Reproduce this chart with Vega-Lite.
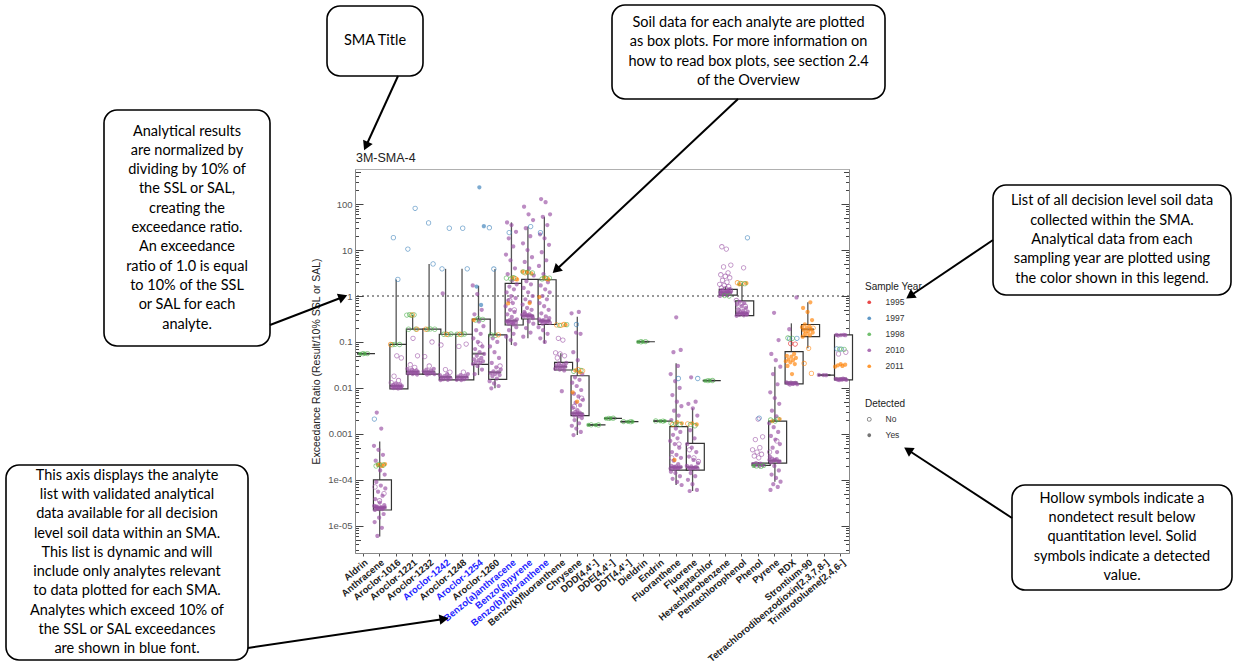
{
"$schema":"https://vega.github.io/schema/vega-lite/v6.json",
"padding":0,
"autosize":{"type":"pad"},
"background":"white",
"width":494,"height":384,
"config":{"font":"Liberation Sans","view":{"stroke":"#b0b0b0","strokeWidth":1},"axis":{"grid":false}},
"datasets":{
"page":[{"l":0,"r":1237,"t":0,"b":665}],
"heading":[{"label":"3M-SMA-4","px":356,"py":158}],
"notes":[
{"l":327,"r":423,"t":6,"b":76,"text":"SMA Title"},
{"l":612,"r":885,"t":5,"b":99,"text":"Soil data for each analyte are plotted\nas box plots. For more information on\nhow to read box plots, see section 2.4\nof the Overview"},
{"l":104,"r":270,"t":110,"b":346,"text":"Analytical results\nare normalized by\ndividing by 10% of\nthe SSL or SAL,\ncreating the\nexceedance ratio.\nAn exceedance\nratio of 1.0 is equal\nto 10% of the SSL\nor SAL for each\nanalyte."},
{"l":993,"r":1231,"t":185,"b":295,"text":"List of all decision level soil data\ncollected within the SMA.\nAnalytical data from each\nsampling year are plotted using\nthe color shown in this legend."},
{"l":6,"r":248,"t":465,"b":660,"text":"This axis displays the analyte\nlist with validated analytical\ndata available for all decision\nlevel soil data within an SMA.\nThis list is dynamic and will\ninclude only analytes relevant\nto data plotted for each SMA.\nAnalytes which exceed 10% of\nthe SSL or SAL exceedances\nare shown in blue font."},
{"l":1012,"r":1232,"t":485,"b":590,"text":"Hollow symbols indicate a\nnondetect result below\nquantitation level.  Solid\nsymbols indicate a detected\nvalue."}
],
"arrows":[
{"x1":398,"y1":76,"x2":366,"y2":146},
{"x1":738,"y1":99,"x2":556,"y2":270},
{"x1":270,"y1":325,"x2":343,"y2":297},
{"x1":993,"y1":240,"x2":910,"y2":296},
{"x1":248,"y1":648,"x2":444,"y2":619},
{"x1":1012,"y1":518,"x2":908,"y2":450}
],
"boxes":[
{"a":"Aldrin","lo":0.0555,"q1":0.0555,"med":0.0555,"q3":0.0555,"hi":0.0555},
{"a":"Anthracene","lo":5.8e-6,"q1":2.2e-5,"med":2.5e-5,"q3":1e-4,"hi":6.8e-4},
{"a":"Aroclor-1016","lo":0.0095,"q1":0.0095,"med":0.011,"q3":0.0887,"hi":2.3},
{"a":"Aroclor-1221","lo":0.0195,"q1":0.02,"med":0.0225,"q3":0.19,"hi":0.386},
{"a":"Aroclor-1232","lo":0.0195,"q1":0.02,"med":0.0225,"q3":0.19,"hi":5.0},
{"a":"Aroclor-1242","lo":0.0148,"q1":0.015,"med":0.0173,"q3":0.147,"hi":3.9},
{"a":"Aroclor-1248","lo":0.0148,"q1":0.015,"med":0.0173,"q3":0.147,"hi":3.9},
{"a":"Aroclor-1254","lo":0.019,"q1":0.0326,"med":0.0555,"q3":0.315,"hi":1.67},
{"a":"Aroclor-1260","lo":0.0098,"q1":0.0154,"med":0.0218,"q3":0.142,"hi":3.87},
{"a":"Benzo(a)anthracene","lo":0.086,"q1":0.234,"med":0.29,"q3":1.89,"hi":40},
{"a":"Benzo(a)pyrene","lo":0.12,"q1":0.316,"med":0.373,"q3":2.31,"hi":32.4},
{"a":"Benzo(b)fluoranthene","lo":0.093,"q1":0.24,"med":0.29,"q3":2.26,"hi":53},
{"a":"Benzo(k)fluoranthene","lo":0.024,"q1":0.0245,"med":0.029,"q3":0.036,"hi":0.0565},
{"a":"Chrysene","lo":0.00094,"q1":0.0025,"med":0.0028,"q3":0.0184,"hi":0.355},
{"a":"DDD[4,4'-]","lo":0.00156,"q1":0.00156,"med":0.00156,"q3":0.00156,"hi":0.00156},
{"a":"DDE[4,4'-]","lo":0.00217,"q1":0.00217,"med":0.00217,"q3":0.00217,"hi":0.00217},
{"a":"DDT[4,4'-]","lo":0.00184,"q1":0.00184,"med":0.00184,"q3":0.00184,"hi":0.00184},
{"a":"Dieldrin","lo":0.101,"q1":0.101,"med":0.101,"q3":0.101,"hi":0.101},
{"a":"Endrin","lo":0.0019,"q1":0.0019,"med":0.0019,"q3":0.0019,"hi":0.0019},
{"a":"Fluoranthene","lo":7.7e-5,"q1":1.63e-4,"med":1.87e-4,"q3":0.00143,"hi":0.0343},
{"a":"Fluorene","lo":5.7e-5,"q1":1.63e-4,"med":1.87e-4,"q3":6.2e-4,"hi":0.0036},
{"a":"Heptachlor","lo":0.0144,"q1":0.0144,"med":0.0144,"q3":0.0144,"hi":0.0144},
{"a":"Hexachlorobenzene","lo":0.98,"q1":1.05,"med":1.2,"q3":1.4,"hi":1.6},
{"a":"Pentachlorophenol","lo":0.37,"q1":0.373,"med":0.42,"q3":0.78,"hi":1.89},
{"a":"Phenol","lo":2e-4,"q1":2.05e-4,"med":2.15e-4,"q3":2.3e-4,"hi":2.4e-4},
{"a":"Pyrene","lo":9.1e-5,"q1":2.3e-4,"med":2.6e-4,"q3":0.0019,"hi":0.029},
{"a":"RDX","lo":0.0118,"q1":0.0122,"med":0.0132,"q3":0.0614,"hi":0.254},
{"a":"Strontium-90","lo":0.0726,"q1":0.13,"med":0.188,"q3":0.24,"hi":0.73},
{"a":"Tetrachlorodibenzodioxin[2,3,7,8-]","lo":0.019,"q1":0.019,"med":0.019,"q3":0.019,"hi":0.019},
{"a":"Trinitrotoluene[2,4,6-]","lo":0.0148,"q1":0.0149,"med":0.016,"q3":0.142,"hi":0.142}
],
"pts":[
{"a":"Aldrin","v":0.0555,"yr":"1998","det":"Yes"},
{"a":"Aldrin","v":0.0552,"yr":"1998","det":"Yes"},
{"a":"Aldrin","v":0.0558,"yr":"1998","det":"No"},
{"a":"Aldrin","v":0.0555,"yr":"1998","det":"No"},
{"a":"Anthracene","v":2.2e-5,"yr":"2010","det":"Yes"},
{"a":"Anthracene","v":2.3e-5,"yr":"2010","det":"Yes"},
{"a":"Anthracene","v":2.4e-5,"yr":"2010","det":"Yes"},
{"a":"Anthracene","v":2.5e-5,"yr":"2010","det":"Yes"},
{"a":"Anthracene","v":2.5e-5,"yr":"2010","det":"Yes"},
{"a":"Anthracene","v":2.6e-5,"yr":"2010","det":"Yes"},
{"a":"Anthracene","v":2.4e-5,"yr":"2010","det":"Yes"},
{"a":"Anthracene","v":2.3e-5,"yr":"2010","det":"Yes"},
{"a":"Anthracene","v":2.7e-5,"yr":"2010","det":"Yes"},
{"a":"Anthracene","v":2.5e-5,"yr":"2010","det":"Yes"},
{"a":"Anthracene","v":2.6e-5,"yr":"2010","det":"Yes"},
{"a":"Anthracene","v":2.8e-5,"yr":"2010","det":"Yes"},
{"a":"Anthracene","v":3.2e-5,"yr":"2010","det":"Yes"},
{"a":"Anthracene","v":3.8e-5,"yr":"2010","det":"Yes"},
{"a":"Anthracene","v":4.5e-5,"yr":"2010","det":"Yes"},
{"a":"Anthracene","v":5.5e-5,"yr":"2010","det":"Yes"},
{"a":"Anthracene","v":6.5e-5,"yr":"2010","det":"Yes"},
{"a":"Anthracene","v":7.5e-5,"yr":"2010","det":"Yes"},
{"a":"Anthracene","v":9e-5,"yr":"2010","det":"Yes"},
{"a":"Anthracene","v":1.8e-5,"yr":"2010","det":"Yes"},
{"a":"Anthracene","v":1.5e-5,"yr":"2010","det":"Yes"},
{"a":"Anthracene","v":1.2e-5,"yr":"2010","det":"Yes"},
{"a":"Anthracene","v":9e-6,"yr":"2010","det":"Yes"},
{"a":"Anthracene","v":6e-6,"yr":"2010","det":"Yes"},
{"a":"Anthracene","v":1.3e-4,"yr":"2010","det":"Yes"},
{"a":"Anthracene","v":1.6e-4,"yr":"2010","det":"Yes"},
{"a":"Anthracene","v":2.6e-4,"yr":"2010","det":"Yes"},
{"a":"Anthracene","v":3.5e-4,"yr":"2010","det":"Yes"},
{"a":"Anthracene","v":4.5e-4,"yr":"2010","det":"Yes"},
{"a":"Anthracene","v":5.5e-4,"yr":"2010","det":"Yes"},
{"a":"Anthracene","v":1.3e-3,"yr":"2010","det":"Yes"},
{"a":"Anthracene","v":2.9e-3,"yr":"2010","det":"Yes"},
{"a":"Anthracene","v":5e-5,"yr":"2010","det":"No"},
{"a":"Anthracene","v":3.5e-5,"yr":"2010","det":"No"},
{"a":"Anthracene","v":7e-5,"yr":"2010","det":"No"},
{"a":"Anthracene","v":2.0e-4,"yr":"2011","det":"Yes"},
{"a":"Anthracene","v":2.1e-4,"yr":"2011","det":"Yes"},
{"a":"Anthracene","v":2.2e-4,"yr":"2011","det":"Yes"},
{"a":"Anthracene","v":2.1e-4,"yr":"2011","det":"No"},
{"a":"Anthracene","v":2.0e-4,"yr":"1998","det":"No"},
{"a":"Anthracene","v":2.1e-4,"yr":"1998","det":"No"},
{"a":"Anthracene","v":2.15e-4,"yr":"1998","det":"No"},
{"a":"Anthracene","v":2.1e-3,"yr":"1997","det":"No"},
{"a":"Aroclor-1016","v":0.0097,"yr":"2010","det":"Yes"},
{"a":"Aroclor-1016","v":0.0099,"yr":"2010","det":"Yes"},
{"a":"Aroclor-1016","v":0.01,"yr":"2010","det":"Yes"},
{"a":"Aroclor-1016","v":0.0101,"yr":"2010","det":"Yes"},
{"a":"Aroclor-1016","v":0.0103,"yr":"2010","det":"Yes"},
{"a":"Aroclor-1016","v":0.0105,"yr":"2010","det":"Yes"},
{"a":"Aroclor-1016","v":0.0107,"yr":"2010","det":"Yes"},
{"a":"Aroclor-1016","v":0.011,"yr":"2010","det":"Yes"},
{"a":"Aroclor-1016","v":0.0113,"yr":"2010","det":"Yes"},
{"a":"Aroclor-1016","v":0.0116,"yr":"2010","det":"Yes"},
{"a":"Aroclor-1016","v":0.012,"yr":"2010","det":"Yes"},
{"a":"Aroclor-1016","v":0.0125,"yr":"2010","det":"Yes"},
{"a":"Aroclor-1016","v":0.013,"yr":"2010","det":"No"},
{"a":"Aroclor-1016","v":0.0145,"yr":"2010","det":"No"},
{"a":"Aroclor-1016","v":0.018,"yr":"2010","det":"No"},
{"a":"Aroclor-1016","v":0.045,"yr":"2010","det":"No"},
{"a":"Aroclor-1016","v":0.05,"yr":"2010","det":"No"},
{"a":"Aroclor-1016","v":0.087,"yr":"1998","det":"No"},
{"a":"Aroclor-1016","v":0.088,"yr":"1998","det":"No"},
{"a":"Aroclor-1016","v":0.089,"yr":"1998","det":"No"},
{"a":"Aroclor-1016","v":0.088,"yr":"2011","det":"No"},
{"a":"Aroclor-1016","v":2.3,"yr":"1997","det":"No"},
{"a":"Aroclor-1016","v":18.6,"yr":"1997","det":"No"},
{"a":"Aroclor-1221","v":0.0195,"yr":"2010","det":"Yes"},
{"a":"Aroclor-1221","v":0.02,"yr":"2010","det":"Yes"},
{"a":"Aroclor-1221","v":0.0205,"yr":"2010","det":"Yes"},
{"a":"Aroclor-1221","v":0.021,"yr":"2010","det":"Yes"},
{"a":"Aroclor-1221","v":0.0215,"yr":"2010","det":"Yes"},
{"a":"Aroclor-1221","v":0.022,"yr":"2010","det":"Yes"},
{"a":"Aroclor-1221","v":0.0225,"yr":"2010","det":"Yes"},
{"a":"Aroclor-1221","v":0.023,"yr":"2010","det":"Yes"},
{"a":"Aroclor-1221","v":0.024,"yr":"2010","det":"Yes"},
{"a":"Aroclor-1221","v":0.025,"yr":"2010","det":"Yes"},
{"a":"Aroclor-1221","v":0.026,"yr":"2010","det":"Yes"},
{"a":"Aroclor-1221","v":0.028,"yr":"2010","det":"No"},
{"a":"Aroclor-1221","v":0.032,"yr":"2010","det":"No"},
{"a":"Aroclor-1221","v":0.05,"yr":"2010","det":"No"},
{"a":"Aroclor-1221","v":0.12,"yr":"2010","det":"No"},
{"a":"Aroclor-1221","v":0.19,"yr":"1998","det":"No"},
{"a":"Aroclor-1221","v":0.191,"yr":"1998","det":"No"},
{"a":"Aroclor-1221","v":0.38,"yr":"1998","det":"No"},
{"a":"Aroclor-1221","v":0.385,"yr":"1998","det":"No"},
{"a":"Aroclor-1221","v":0.39,"yr":"1998","det":"No"},
{"a":"Aroclor-1221","v":0.395,"yr":"1998","det":"No"},
{"a":"Aroclor-1221","v":0.19,"yr":"2011","det":"No"},
{"a":"Aroclor-1221","v":0.39,"yr":"2011","det":"No"},
{"a":"Aroclor-1221","v":10.5,"yr":"1997","det":"No"},
{"a":"Aroclor-1221","v":81,"yr":"1997","det":"No"},
{"a":"Aroclor-1232","v":0.0195,"yr":"2010","det":"Yes"},
{"a":"Aroclor-1232","v":0.02,"yr":"2010","det":"Yes"},
{"a":"Aroclor-1232","v":0.0205,"yr":"2010","det":"Yes"},
{"a":"Aroclor-1232","v":0.021,"yr":"2010","det":"Yes"},
{"a":"Aroclor-1232","v":0.0215,"yr":"2010","det":"Yes"},
{"a":"Aroclor-1232","v":0.022,"yr":"2010","det":"Yes"},
{"a":"Aroclor-1232","v":0.023,"yr":"2010","det":"Yes"},
{"a":"Aroclor-1232","v":0.024,"yr":"2010","det":"Yes"},
{"a":"Aroclor-1232","v":0.025,"yr":"2010","det":"Yes"},
{"a":"Aroclor-1232","v":0.026,"yr":"2010","det":"Yes"},
{"a":"Aroclor-1232","v":0.03,"yr":"2010","det":"No"},
{"a":"Aroclor-1232","v":0.048,"yr":"2010","det":"No"},
{"a":"Aroclor-1232","v":0.1,"yr":"2010","det":"No"},
{"a":"Aroclor-1232","v":0.188,"yr":"1998","det":"No"},
{"a":"Aroclor-1232","v":0.19,"yr":"1998","det":"No"},
{"a":"Aroclor-1232","v":0.192,"yr":"1998","det":"No"},
{"a":"Aroclor-1232","v":0.19,"yr":"2011","det":"No"},
{"a":"Aroclor-1232","v":5.0,"yr":"1997","det":"No"},
{"a":"Aroclor-1232","v":39,"yr":"1997","det":"No"},
{"a":"Aroclor-1242","v":0.0148,"yr":"2010","det":"Yes"},
{"a":"Aroclor-1242","v":0.015,"yr":"2010","det":"Yes"},
{"a":"Aroclor-1242","v":0.0155,"yr":"2010","det":"Yes"},
{"a":"Aroclor-1242","v":0.016,"yr":"2010","det":"Yes"},
{"a":"Aroclor-1242","v":0.0165,"yr":"2010","det":"Yes"},
{"a":"Aroclor-1242","v":0.017,"yr":"2010","det":"Yes"},
{"a":"Aroclor-1242","v":0.0175,"yr":"2010","det":"Yes"},
{"a":"Aroclor-1242","v":0.018,"yr":"2010","det":"Yes"},
{"a":"Aroclor-1242","v":0.019,"yr":"2010","det":"Yes"},
{"a":"Aroclor-1242","v":0.02,"yr":"2010","det":"Yes"},
{"a":"Aroclor-1242","v":1.14,"yr":"2010","det":"Yes"},
{"a":"Aroclor-1242","v":0.022,"yr":"2010","det":"No"},
{"a":"Aroclor-1242","v":0.025,"yr":"2010","det":"No"},
{"a":"Aroclor-1242","v":0.086,"yr":"2010","det":"No"},
{"a":"Aroclor-1242","v":0.145,"yr":"1998","det":"No"},
{"a":"Aroclor-1242","v":0.147,"yr":"1998","det":"No"},
{"a":"Aroclor-1242","v":0.149,"yr":"1998","det":"No"},
{"a":"Aroclor-1242","v":0.147,"yr":"2011","det":"No"},
{"a":"Aroclor-1242","v":3.9,"yr":"1997","det":"No"},
{"a":"Aroclor-1242","v":30,"yr":"1997","det":"No"},
{"a":"Aroclor-1248","v":0.0148,"yr":"2010","det":"Yes"},
{"a":"Aroclor-1248","v":0.015,"yr":"2010","det":"Yes"},
{"a":"Aroclor-1248","v":0.0155,"yr":"2010","det":"Yes"},
{"a":"Aroclor-1248","v":0.016,"yr":"2010","det":"Yes"},
{"a":"Aroclor-1248","v":0.0165,"yr":"2010","det":"Yes"},
{"a":"Aroclor-1248","v":0.017,"yr":"2010","det":"Yes"},
{"a":"Aroclor-1248","v":0.0175,"yr":"2010","det":"Yes"},
{"a":"Aroclor-1248","v":0.018,"yr":"2010","det":"Yes"},
{"a":"Aroclor-1248","v":0.019,"yr":"2010","det":"Yes"},
{"a":"Aroclor-1248","v":0.02,"yr":"2010","det":"Yes"},
{"a":"Aroclor-1248","v":0.022,"yr":"2010","det":"No"},
{"a":"Aroclor-1248","v":0.08,"yr":"2010","det":"No"},
{"a":"Aroclor-1248","v":0.09,"yr":"2010","det":"No"},
{"a":"Aroclor-1248","v":0.145,"yr":"1998","det":"No"},
{"a":"Aroclor-1248","v":0.147,"yr":"1998","det":"No"},
{"a":"Aroclor-1248","v":0.149,"yr":"1998","det":"No"},
{"a":"Aroclor-1248","v":0.147,"yr":"2011","det":"No"},
{"a":"Aroclor-1248","v":3.9,"yr":"1997","det":"No"},
{"a":"Aroclor-1248","v":30,"yr":"1997","det":"No"},
{"a":"Aroclor-1254","v":0.02,"yr":"2010","det":"Yes"},
{"a":"Aroclor-1254","v":0.025,"yr":"2010","det":"Yes"},
{"a":"Aroclor-1254","v":0.03,"yr":"2010","det":"Yes"},
{"a":"Aroclor-1254","v":0.033,"yr":"2010","det":"Yes"},
{"a":"Aroclor-1254","v":0.035,"yr":"2010","det":"Yes"},
{"a":"Aroclor-1254","v":0.036,"yr":"2010","det":"Yes"},
{"a":"Aroclor-1254","v":0.038,"yr":"2010","det":"Yes"},
{"a":"Aroclor-1254","v":0.04,"yr":"2010","det":"Yes"},
{"a":"Aroclor-1254","v":0.042,"yr":"2010","det":"Yes"},
{"a":"Aroclor-1254","v":0.045,"yr":"2010","det":"Yes"},
{"a":"Aroclor-1254","v":0.05,"yr":"2010","det":"Yes"},
{"a":"Aroclor-1254","v":0.055,"yr":"2010","det":"Yes"},
{"a":"Aroclor-1254","v":0.06,"yr":"2010","det":"Yes"},
{"a":"Aroclor-1254","v":0.07,"yr":"2010","det":"Yes"},
{"a":"Aroclor-1254","v":0.08,"yr":"2010","det":"Yes"},
{"a":"Aroclor-1254","v":0.1,"yr":"2010","det":"Yes"},
{"a":"Aroclor-1254","v":0.12,"yr":"2010","det":"Yes"},
{"a":"Aroclor-1254","v":0.15,"yr":"2010","det":"Yes"},
{"a":"Aroclor-1254","v":0.18,"yr":"2010","det":"Yes"},
{"a":"Aroclor-1254","v":0.22,"yr":"2010","det":"Yes"},
{"a":"Aroclor-1254","v":0.28,"yr":"2010","det":"Yes"},
{"a":"Aroclor-1254","v":0.4,"yr":"2010","det":"Yes"},
{"a":"Aroclor-1254","v":0.5,"yr":"2010","det":"Yes"},
{"a":"Aroclor-1254","v":1.1,"yr":"2010","det":"Yes"},
{"a":"Aroclor-1254","v":1.7,"yr":"2010","det":"Yes"},
{"a":"Aroclor-1254","v":0.09,"yr":"2010","det":"No"},
{"a":"Aroclor-1254","v":0.3,"yr":"1998","det":"No"},
{"a":"Aroclor-1254","v":0.31,"yr":"1998","det":"No"},
{"a":"Aroclor-1254","v":0.32,"yr":"1998","det":"No"},
{"a":"Aroclor-1254","v":0.3,"yr":"2011","det":"Yes"},
{"a":"Aroclor-1254","v":0.64,"yr":"1997","det":"Yes"},
{"a":"Aroclor-1254","v":1.6,"yr":"1997","det":"Yes"},
{"a":"Aroclor-1254","v":33,"yr":"1997","det":"Yes"},
{"a":"Aroclor-1254","v":232,"yr":"1997","det":"Yes"},
{"a":"Aroclor-1260","v":0.0098,"yr":"2010","det":"Yes"},
{"a":"Aroclor-1260","v":0.011,"yr":"2010","det":"Yes"},
{"a":"Aroclor-1260","v":0.0125,"yr":"2010","det":"Yes"},
{"a":"Aroclor-1260","v":0.014,"yr":"2010","det":"Yes"},
{"a":"Aroclor-1260","v":0.016,"yr":"2010","det":"Yes"},
{"a":"Aroclor-1260","v":0.018,"yr":"2010","det":"Yes"},
{"a":"Aroclor-1260","v":0.019,"yr":"2010","det":"Yes"},
{"a":"Aroclor-1260","v":0.02,"yr":"2010","det":"Yes"},
{"a":"Aroclor-1260","v":0.021,"yr":"2010","det":"Yes"},
{"a":"Aroclor-1260","v":0.022,"yr":"2010","det":"Yes"},
{"a":"Aroclor-1260","v":0.023,"yr":"2010","det":"Yes"},
{"a":"Aroclor-1260","v":0.025,"yr":"2010","det":"Yes"},
{"a":"Aroclor-1260","v":0.028,"yr":"2010","det":"Yes"},
{"a":"Aroclor-1260","v":0.035,"yr":"2010","det":"Yes"},
{"a":"Aroclor-1260","v":0.045,"yr":"2010","det":"Yes"},
{"a":"Aroclor-1260","v":0.06,"yr":"2010","det":"Yes"},
{"a":"Aroclor-1260","v":0.08,"yr":"2010","det":"Yes"},
{"a":"Aroclor-1260","v":0.1,"yr":"2010","det":"Yes"},
{"a":"Aroclor-1260","v":0.12,"yr":"2010","det":"Yes"},
{"a":"Aroclor-1260","v":0.03,"yr":"2010","det":"No"},
{"a":"Aroclor-1260","v":0.14,"yr":"1998","det":"No"},
{"a":"Aroclor-1260","v":0.142,"yr":"1998","det":"No"},
{"a":"Aroclor-1260","v":0.143,"yr":"2011","det":"No"},
{"a":"Aroclor-1260","v":3.87,"yr":"1997","det":"No"},
{"a":"Aroclor-1260","v":30.7,"yr":"1997","det":"No"},
{"a":"Benzo(a)anthracene","v":0.24,"yr":"2010","det":"Yes"},
{"a":"Benzo(a)anthracene","v":0.25,"yr":"2010","det":"Yes"},
{"a":"Benzo(a)anthracene","v":0.26,"yr":"2010","det":"Yes"},
{"a":"Benzo(a)anthracene","v":0.27,"yr":"2010","det":"Yes"},
{"a":"Benzo(a)anthracene","v":0.28,"yr":"2010","det":"Yes"},
{"a":"Benzo(a)anthracene","v":0.29,"yr":"2010","det":"Yes"},
{"a":"Benzo(a)anthracene","v":0.3,"yr":"2010","det":"Yes"},
{"a":"Benzo(a)anthracene","v":0.31,"yr":"2010","det":"Yes"},
{"a":"Benzo(a)anthracene","v":0.26,"yr":"2010","det":"Yes"},
{"a":"Benzo(a)anthracene","v":0.28,"yr":"2010","det":"Yes"},
{"a":"Benzo(a)anthracene","v":0.09,"yr":"2010","det":"Yes"},
{"a":"Benzo(a)anthracene","v":0.11,"yr":"2010","det":"Yes"},
{"a":"Benzo(a)anthracene","v":0.13,"yr":"2010","det":"Yes"},
{"a":"Benzo(a)anthracene","v":0.15,"yr":"2010","det":"Yes"},
{"a":"Benzo(a)anthracene","v":0.18,"yr":"2010","det":"Yes"},
{"a":"Benzo(a)anthracene","v":0.21,"yr":"2010","det":"Yes"},
{"a":"Benzo(a)anthracene","v":0.35,"yr":"2010","det":"Yes"},
{"a":"Benzo(a)anthracene","v":0.4,"yr":"2010","det":"Yes"},
{"a":"Benzo(a)anthracene","v":0.45,"yr":"2010","det":"Yes"},
{"a":"Benzo(a)anthracene","v":0.5,"yr":"2010","det":"Yes"},
{"a":"Benzo(a)anthracene","v":0.6,"yr":"2010","det":"Yes"},
{"a":"Benzo(a)anthracene","v":0.7,"yr":"2010","det":"Yes"},
{"a":"Benzo(a)anthracene","v":0.8,"yr":"2010","det":"Yes"},
{"a":"Benzo(a)anthracene","v":0.9,"yr":"2010","det":"Yes"},
{"a":"Benzo(a)anthracene","v":1.0,"yr":"2010","det":"Yes"},
{"a":"Benzo(a)anthracene","v":1.2,"yr":"2010","det":"Yes"},
{"a":"Benzo(a)anthracene","v":1.4,"yr":"2010","det":"Yes"},
{"a":"Benzo(a)anthracene","v":1.6,"yr":"2010","det":"Yes"},
{"a":"Benzo(a)anthracene","v":1.8,"yr":"2010","det":"Yes"},
{"a":"Benzo(a)anthracene","v":2.2,"yr":"2010","det":"Yes"},
{"a":"Benzo(a)anthracene","v":3,"yr":"2010","det":"Yes"},
{"a":"Benzo(a)anthracene","v":4,"yr":"2010","det":"Yes"},
{"a":"Benzo(a)anthracene","v":6,"yr":"2010","det":"Yes"},
{"a":"Benzo(a)anthracene","v":8,"yr":"2010","det":"Yes"},
{"a":"Benzo(a)anthracene","v":12,"yr":"2010","det":"Yes"},
{"a":"Benzo(a)anthracene","v":18,"yr":"2010","det":"Yes"},
{"a":"Benzo(a)anthracene","v":25,"yr":"2010","det":"Yes"},
{"a":"Benzo(a)anthracene","v":35,"yr":"2010","det":"Yes"},
{"a":"Benzo(a)anthracene","v":40,"yr":"2010","det":"Yes"},
{"a":"Benzo(a)anthracene","v":0.5,"yr":"2010","det":"No"},
{"a":"Benzo(a)anthracene","v":0.8,"yr":"2010","det":"No"},
{"a":"Benzo(a)anthracene","v":2.3,"yr":"2011","det":"Yes"},
{"a":"Benzo(a)anthracene","v":2.5,"yr":"2011","det":"Yes"},
{"a":"Benzo(a)anthracene","v":0.69,"yr":"2011","det":"Yes"},
{"a":"Benzo(a)anthracene","v":2.4,"yr":"2011","det":"No"},
{"a":"Benzo(a)anthracene","v":2.35,"yr":"1998","det":"No"},
{"a":"Benzo(a)anthracene","v":2.45,"yr":"1998","det":"No"},
{"a":"Benzo(a)anthracene","v":2.5,"yr":"1998","det":"No"},
{"a":"Benzo(a)anthracene","v":24,"yr":"1997","det":"No"},
{"a":"Benzo(a)pyrene","v":0.33,"yr":"2010","det":"Yes"},
{"a":"Benzo(a)pyrene","v":0.35,"yr":"2010","det":"Yes"},
{"a":"Benzo(a)pyrene","v":0.36,"yr":"2010","det":"Yes"},
{"a":"Benzo(a)pyrene","v":0.37,"yr":"2010","det":"Yes"},
{"a":"Benzo(a)pyrene","v":0.38,"yr":"2010","det":"Yes"},
{"a":"Benzo(a)pyrene","v":0.39,"yr":"2010","det":"Yes"},
{"a":"Benzo(a)pyrene","v":0.4,"yr":"2010","det":"Yes"},
{"a":"Benzo(a)pyrene","v":0.42,"yr":"2010","det":"Yes"},
{"a":"Benzo(a)pyrene","v":0.36,"yr":"2010","det":"Yes"},
{"a":"Benzo(a)pyrene","v":0.38,"yr":"2010","det":"Yes"},
{"a":"Benzo(a)pyrene","v":0.13,"yr":"2010","det":"Yes"},
{"a":"Benzo(a)pyrene","v":0.16,"yr":"2010","det":"Yes"},
{"a":"Benzo(a)pyrene","v":0.2,"yr":"2010","det":"Yes"},
{"a":"Benzo(a)pyrene","v":0.25,"yr":"2010","det":"Yes"},
{"a":"Benzo(a)pyrene","v":0.28,"yr":"2010","det":"Yes"},
{"a":"Benzo(a)pyrene","v":0.45,"yr":"2010","det":"Yes"},
{"a":"Benzo(a)pyrene","v":0.5,"yr":"2010","det":"Yes"},
{"a":"Benzo(a)pyrene","v":0.55,"yr":"2010","det":"Yes"},
{"a":"Benzo(a)pyrene","v":0.65,"yr":"2010","det":"Yes"},
{"a":"Benzo(a)pyrene","v":0.75,"yr":"2010","det":"Yes"},
{"a":"Benzo(a)pyrene","v":0.85,"yr":"2010","det":"Yes"},
{"a":"Benzo(a)pyrene","v":1.0,"yr":"2010","det":"Yes"},
{"a":"Benzo(a)pyrene","v":1.2,"yr":"2010","det":"Yes"},
{"a":"Benzo(a)pyrene","v":1.5,"yr":"2010","det":"Yes"},
{"a":"Benzo(a)pyrene","v":1.8,"yr":"2010","det":"Yes"},
{"a":"Benzo(a)pyrene","v":2.1,"yr":"2010","det":"Yes"},
{"a":"Benzo(a)pyrene","v":2.8,"yr":"2010","det":"Yes"},
{"a":"Benzo(a)pyrene","v":4,"yr":"2010","det":"Yes"},
{"a":"Benzo(a)pyrene","v":5.5,"yr":"2010","det":"Yes"},
{"a":"Benzo(a)pyrene","v":7,"yr":"2010","det":"Yes"},
{"a":"Benzo(a)pyrene","v":10,"yr":"2010","det":"Yes"},
{"a":"Benzo(a)pyrene","v":14,"yr":"2010","det":"Yes"},
{"a":"Benzo(a)pyrene","v":20,"yr":"2010","det":"Yes"},
{"a":"Benzo(a)pyrene","v":30,"yr":"2010","det":"Yes"},
{"a":"Benzo(a)pyrene","v":45,"yr":"2010","det":"Yes"},
{"a":"Benzo(a)pyrene","v":60,"yr":"2010","det":"Yes"},
{"a":"Benzo(a)pyrene","v":88,"yr":"2010","det":"Yes"},
{"a":"Benzo(a)pyrene","v":3.1,"yr":"2011","det":"Yes"},
{"a":"Benzo(a)pyrene","v":3.3,"yr":"2011","det":"Yes"},
{"a":"Benzo(a)pyrene","v":3.4,"yr":"2011","det":"Yes"},
{"a":"Benzo(a)pyrene","v":0.7,"yr":"2011","det":"Yes"},
{"a":"Benzo(a)pyrene","v":3.2,"yr":"2011","det":"No"},
{"a":"Benzo(a)pyrene","v":3.2,"yr":"1998","det":"No"},
{"a":"Benzo(a)pyrene","v":3.3,"yr":"1998","det":"No"},
{"a":"Benzo(a)pyrene","v":3.35,"yr":"1998","det":"No"},
{"a":"Benzo(a)pyrene","v":32.4,"yr":"1997","det":"No"},
{"a":"Benzo(b)fluoranthene","v":0.25,"yr":"2010","det":"Yes"},
{"a":"Benzo(b)fluoranthene","v":0.26,"yr":"2010","det":"Yes"},
{"a":"Benzo(b)fluoranthene","v":0.27,"yr":"2010","det":"Yes"},
{"a":"Benzo(b)fluoranthene","v":0.28,"yr":"2010","det":"Yes"},
{"a":"Benzo(b)fluoranthene","v":0.29,"yr":"2010","det":"Yes"},
{"a":"Benzo(b)fluoranthene","v":0.3,"yr":"2010","det":"Yes"},
{"a":"Benzo(b)fluoranthene","v":0.31,"yr":"2010","det":"Yes"},
{"a":"Benzo(b)fluoranthene","v":0.27,"yr":"2010","det":"Yes"},
{"a":"Benzo(b)fluoranthene","v":0.29,"yr":"2010","det":"Yes"},
{"a":"Benzo(b)fluoranthene","v":0.33,"yr":"2010","det":"Yes"},
{"a":"Benzo(b)fluoranthene","v":0.1,"yr":"2010","det":"Yes"},
{"a":"Benzo(b)fluoranthene","v":0.12,"yr":"2010","det":"Yes"},
{"a":"Benzo(b)fluoranthene","v":0.15,"yr":"2010","det":"Yes"},
{"a":"Benzo(b)fluoranthene","v":0.18,"yr":"2010","det":"Yes"},
{"a":"Benzo(b)fluoranthene","v":0.21,"yr":"2010","det":"Yes"},
{"a":"Benzo(b)fluoranthene","v":0.36,"yr":"2010","det":"Yes"},
{"a":"Benzo(b)fluoranthene","v":0.42,"yr":"2010","det":"Yes"},
{"a":"Benzo(b)fluoranthene","v":0.5,"yr":"2010","det":"Yes"},
{"a":"Benzo(b)fluoranthene","v":0.6,"yr":"2010","det":"Yes"},
{"a":"Benzo(b)fluoranthene","v":0.7,"yr":"2010","det":"Yes"},
{"a":"Benzo(b)fluoranthene","v":0.85,"yr":"2010","det":"Yes"},
{"a":"Benzo(b)fluoranthene","v":1.0,"yr":"2010","det":"Yes"},
{"a":"Benzo(b)fluoranthene","v":1.2,"yr":"2010","det":"Yes"},
{"a":"Benzo(b)fluoranthene","v":1.4,"yr":"2010","det":"Yes"},
{"a":"Benzo(b)fluoranthene","v":1.7,"yr":"2010","det":"Yes"},
{"a":"Benzo(b)fluoranthene","v":2.0,"yr":"2010","det":"Yes"},
{"a":"Benzo(b)fluoranthene","v":3,"yr":"2010","det":"Yes"},
{"a":"Benzo(b)fluoranthene","v":4.5,"yr":"2010","det":"Yes"},
{"a":"Benzo(b)fluoranthene","v":6,"yr":"2010","det":"Yes"},
{"a":"Benzo(b)fluoranthene","v":9,"yr":"2010","det":"Yes"},
{"a":"Benzo(b)fluoranthene","v":13,"yr":"2010","det":"Yes"},
{"a":"Benzo(b)fluoranthene","v":18,"yr":"2010","det":"Yes"},
{"a":"Benzo(b)fluoranthene","v":22,"yr":"2010","det":"Yes"},
{"a":"Benzo(b)fluoranthene","v":35,"yr":"2010","det":"Yes"},
{"a":"Benzo(b)fluoranthene","v":53,"yr":"2010","det":"Yes"},
{"a":"Benzo(b)fluoranthene","v":60,"yr":"2010","det":"Yes"},
{"a":"Benzo(b)fluoranthene","v":110,"yr":"2010","det":"Yes"},
{"a":"Benzo(b)fluoranthene","v":129,"yr":"2010","det":"Yes"},
{"a":"Benzo(b)fluoranthene","v":2.3,"yr":"2011","det":"Yes"},
{"a":"Benzo(b)fluoranthene","v":2.5,"yr":"2011","det":"Yes"},
{"a":"Benzo(b)fluoranthene","v":0.95,"yr":"2011","det":"Yes"},
{"a":"Benzo(b)fluoranthene","v":2.4,"yr":"2011","det":"No"},
{"a":"Benzo(b)fluoranthene","v":2.35,"yr":"1998","det":"No"},
{"a":"Benzo(b)fluoranthene","v":2.45,"yr":"1998","det":"No"},
{"a":"Benzo(b)fluoranthene","v":2.5,"yr":"1998","det":"No"},
{"a":"Benzo(b)fluoranthene","v":24,"yr":"1997","det":"No"},
{"a":"Benzo(k)fluoranthene","v":0.024,"yr":"2010","det":"Yes"},
{"a":"Benzo(k)fluoranthene","v":0.025,"yr":"2010","det":"Yes"},
{"a":"Benzo(k)fluoranthene","v":0.026,"yr":"2010","det":"Yes"},
{"a":"Benzo(k)fluoranthene","v":0.027,"yr":"2010","det":"Yes"},
{"a":"Benzo(k)fluoranthene","v":0.028,"yr":"2010","det":"Yes"},
{"a":"Benzo(k)fluoranthene","v":0.029,"yr":"2010","det":"Yes"},
{"a":"Benzo(k)fluoranthene","v":0.03,"yr":"2010","det":"Yes"},
{"a":"Benzo(k)fluoranthene","v":0.031,"yr":"2010","det":"Yes"},
{"a":"Benzo(k)fluoranthene","v":0.032,"yr":"2010","det":"Yes"},
{"a":"Benzo(k)fluoranthene","v":0.034,"yr":"2010","det":"Yes"},
{"a":"Benzo(k)fluoranthene","v":0.035,"yr":"2010","det":"Yes"},
{"a":"Benzo(k)fluoranthene","v":0.0085,"yr":"2010","det":"Yes"},
{"a":"Benzo(k)fluoranthene","v":0.045,"yr":"2010","det":"No"},
{"a":"Benzo(k)fluoranthene","v":0.05,"yr":"2010","det":"No"},
{"a":"Benzo(k)fluoranthene","v":0.055,"yr":"2010","det":"No"},
{"a":"Benzo(k)fluoranthene","v":0.058,"yr":"2010","det":"No"},
{"a":"Benzo(k)fluoranthene","v":0.11,"yr":"2010","det":"No"},
{"a":"Benzo(k)fluoranthene","v":0.12,"yr":"2010","det":"No"},
{"a":"Benzo(k)fluoranthene","v":0.234,"yr":"2011","det":"Yes"},
{"a":"Benzo(k)fluoranthene","v":0.23,"yr":"2011","det":"No"},
{"a":"Benzo(k)fluoranthene","v":0.235,"yr":"2011","det":"No"},
{"a":"Benzo(k)fluoranthene","v":0.24,"yr":"2011","det":"No"},
{"a":"Benzo(k)fluoranthene","v":0.23,"yr":"1998","det":"No"},
{"a":"Benzo(k)fluoranthene","v":0.238,"yr":"1998","det":"No"},
{"a":"Chrysene","v":0.0024,"yr":"2010","det":"Yes"},
{"a":"Chrysene","v":0.0025,"yr":"2010","det":"Yes"},
{"a":"Chrysene","v":0.0026,"yr":"2010","det":"Yes"},
{"a":"Chrysene","v":0.0027,"yr":"2010","det":"Yes"},
{"a":"Chrysene","v":0.0028,"yr":"2010","det":"Yes"},
{"a":"Chrysene","v":0.0029,"yr":"2010","det":"Yes"},
{"a":"Chrysene","v":0.003,"yr":"2010","det":"Yes"},
{"a":"Chrysene","v":0.0026,"yr":"2010","det":"Yes"},
{"a":"Chrysene","v":0.0028,"yr":"2010","det":"Yes"},
{"a":"Chrysene","v":0.00094,"yr":"2010","det":"Yes"},
{"a":"Chrysene","v":0.0011,"yr":"2010","det":"Yes"},
{"a":"Chrysene","v":0.0013,"yr":"2010","det":"Yes"},
{"a":"Chrysene","v":0.0015,"yr":"2010","det":"Yes"},
{"a":"Chrysene","v":0.0017,"yr":"2010","det":"Yes"},
{"a":"Chrysene","v":0.002,"yr":"2010","det":"Yes"},
{"a":"Chrysene","v":0.0022,"yr":"2010","det":"Yes"},
{"a":"Chrysene","v":0.0033,"yr":"2010","det":"Yes"},
{"a":"Chrysene","v":0.0037,"yr":"2010","det":"Yes"},
{"a":"Chrysene","v":0.0042,"yr":"2010","det":"Yes"},
{"a":"Chrysene","v":0.0048,"yr":"2010","det":"Yes"},
{"a":"Chrysene","v":0.0055,"yr":"2010","det":"Yes"},
{"a":"Chrysene","v":0.0065,"yr":"2010","det":"Yes"},
{"a":"Chrysene","v":0.0075,"yr":"2010","det":"Yes"},
{"a":"Chrysene","v":0.009,"yr":"2010","det":"Yes"},
{"a":"Chrysene","v":0.011,"yr":"2010","det":"Yes"},
{"a":"Chrysene","v":0.013,"yr":"2010","det":"Yes"},
{"a":"Chrysene","v":0.015,"yr":"2010","det":"Yes"},
{"a":"Chrysene","v":0.017,"yr":"2010","det":"Yes"},
{"a":"Chrysene","v":0.02,"yr":"2010","det":"Yes"},
{"a":"Chrysene","v":0.04,"yr":"2010","det":"Yes"},
{"a":"Chrysene","v":0.06,"yr":"2010","det":"Yes"},
{"a":"Chrysene","v":0.15,"yr":"2010","det":"Yes"},
{"a":"Chrysene","v":0.16,"yr":"2010","det":"Yes"},
{"a":"Chrysene","v":0.42,"yr":"2010","det":"Yes"},
{"a":"Chrysene","v":0.45,"yr":"2010","det":"Yes"},
{"a":"Chrysene","v":0.004,"yr":"2010","det":"No"},
{"a":"Chrysene","v":0.006,"yr":"2010","det":"No"},
{"a":"Chrysene","v":0.005,"yr":"2011","det":"Yes"},
{"a":"Chrysene","v":0.008,"yr":"2011","det":"Yes"},
{"a":"Chrysene","v":0.022,"yr":"2011","det":"Yes"},
{"a":"Chrysene","v":0.024,"yr":"2011","det":"Yes"},
{"a":"Chrysene","v":0.0235,"yr":"2011","det":"No"},
{"a":"Chrysene","v":0.025,"yr":"2011","det":"No"},
{"a":"Chrysene","v":0.023,"yr":"1998","det":"No"},
{"a":"Chrysene","v":0.024,"yr":"1998","det":"No"},
{"a":"Chrysene","v":0.24,"yr":"1997","det":"No"},
{"a":"DDD[4,4'-]","v":0.00156,"yr":"1998","det":"Yes"},
{"a":"DDD[4,4'-]","v":0.00155,"yr":"1998","det":"Yes"},
{"a":"DDD[4,4'-]","v":0.00157,"yr":"1998","det":"No"},
{"a":"DDD[4,4'-]","v":0.00156,"yr":"1998","det":"No"},
{"a":"DDE[4,4'-]","v":0.00217,"yr":"1998","det":"Yes"},
{"a":"DDE[4,4'-]","v":0.00215,"yr":"1998","det":"Yes"},
{"a":"DDE[4,4'-]","v":0.00219,"yr":"1998","det":"No"},
{"a":"DDE[4,4'-]","v":0.00217,"yr":"1998","det":"No"},
{"a":"DDT[4,4'-]","v":0.00184,"yr":"1998","det":"Yes"},
{"a":"DDT[4,4'-]","v":0.00183,"yr":"1998","det":"Yes"},
{"a":"DDT[4,4'-]","v":0.00185,"yr":"1998","det":"No"},
{"a":"DDT[4,4'-]","v":0.00184,"yr":"1998","det":"No"},
{"a":"Dieldrin","v":0.101,"yr":"1998","det":"Yes"},
{"a":"Dieldrin","v":0.1,"yr":"1998","det":"Yes"},
{"a":"Dieldrin","v":0.102,"yr":"1998","det":"No"},
{"a":"Dieldrin","v":0.101,"yr":"1998","det":"No"},
{"a":"Endrin","v":0.0019,"yr":"1998","det":"Yes"},
{"a":"Endrin","v":0.00189,"yr":"1998","det":"Yes"},
{"a":"Endrin","v":0.00191,"yr":"1998","det":"No"},
{"a":"Endrin","v":0.0019,"yr":"1998","det":"No"},
{"a":"Fluoranthene","v":0.00017,"yr":"2010","det":"Yes"},
{"a":"Fluoranthene","v":0.000175,"yr":"2010","det":"Yes"},
{"a":"Fluoranthene","v":0.00018,"yr":"2010","det":"Yes"},
{"a":"Fluoranthene","v":0.000185,"yr":"2010","det":"Yes"},
{"a":"Fluoranthene","v":0.00019,"yr":"2010","det":"Yes"},
{"a":"Fluoranthene","v":0.000195,"yr":"2010","det":"Yes"},
{"a":"Fluoranthene","v":0.0002,"yr":"2010","det":"Yes"},
{"a":"Fluoranthene","v":0.00018,"yr":"2010","det":"Yes"},
{"a":"Fluoranthene","v":0.00019,"yr":"2010","det":"Yes"},
{"a":"Fluoranthene","v":0.000077,"yr":"2010","det":"Yes"},
{"a":"Fluoranthene","v":0.00009,"yr":"2010","det":"Yes"},
{"a":"Fluoranthene","v":0.000105,"yr":"2010","det":"Yes"},
{"a":"Fluoranthene","v":0.00012,"yr":"2010","det":"Yes"},
{"a":"Fluoranthene","v":0.00014,"yr":"2010","det":"Yes"},
{"a":"Fluoranthene","v":0.00015,"yr":"2010","det":"Yes"},
{"a":"Fluoranthene","v":0.00022,"yr":"2010","det":"Yes"},
{"a":"Fluoranthene","v":0.00026,"yr":"2010","det":"Yes"},
{"a":"Fluoranthene","v":0.0003,"yr":"2010","det":"Yes"},
{"a":"Fluoranthene","v":0.00035,"yr":"2010","det":"Yes"},
{"a":"Fluoranthene","v":0.0004,"yr":"2010","det":"Yes"},
{"a":"Fluoranthene","v":0.0005,"yr":"2010","det":"Yes"},
{"a":"Fluoranthene","v":0.0006,"yr":"2010","det":"Yes"},
{"a":"Fluoranthene","v":0.0007,"yr":"2010","det":"Yes"},
{"a":"Fluoranthene","v":0.0008,"yr":"2010","det":"Yes"},
{"a":"Fluoranthene","v":0.00095,"yr":"2010","det":"Yes"},
{"a":"Fluoranthene","v":0.0011,"yr":"2010","det":"Yes"},
{"a":"Fluoranthene","v":0.0013,"yr":"2010","det":"Yes"},
{"a":"Fluoranthene","v":0.002,"yr":"2010","det":"Yes"},
{"a":"Fluoranthene","v":0.0025,"yr":"2010","det":"Yes"},
{"a":"Fluoranthene","v":0.0032,"yr":"2010","det":"Yes"},
{"a":"Fluoranthene","v":0.004,"yr":"2010","det":"Yes"},
{"a":"Fluoranthene","v":0.005,"yr":"2010","det":"Yes"},
{"a":"Fluoranthene","v":0.007,"yr":"2010","det":"Yes"},
{"a":"Fluoranthene","v":0.01,"yr":"2010","det":"Yes"},
{"a":"Fluoranthene","v":0.014,"yr":"2010","det":"Yes"},
{"a":"Fluoranthene","v":0.02,"yr":"2010","det":"Yes"},
{"a":"Fluoranthene","v":0.03,"yr":"2010","det":"Yes"},
{"a":"Fluoranthene","v":0.06,"yr":"2010","det":"Yes"},
{"a":"Fluoranthene","v":0.067,"yr":"2010","det":"Yes"},
{"a":"Fluoranthene","v":0.343,"yr":"2010","det":"Yes"},
{"a":"Fluoranthene","v":0.0003,"yr":"2010","det":"No"},
{"a":"Fluoranthene","v":0.0006,"yr":"2010","det":"No"},
{"a":"Fluoranthene","v":0.00027,"yr":"2011","det":"Yes"},
{"a":"Fluoranthene","v":0.0017,"yr":"2011","det":"Yes"},
{"a":"Fluoranthene","v":0.0018,"yr":"2011","det":"Yes"},
{"a":"Fluoranthene","v":0.0016,"yr":"2011","det":"No"},
{"a":"Fluoranthene","v":0.0016,"yr":"1998","det":"No"},
{"a":"Fluoranthene","v":0.00165,"yr":"1998","det":"No"},
{"a":"Fluoranthene","v":0.0017,"yr":"1998","det":"No"},
{"a":"Fluoranthene","v":0.016,"yr":"1997","det":"No"},
{"a":"Fluorene","v":0.00017,"yr":"2010","det":"Yes"},
{"a":"Fluorene","v":0.000175,"yr":"2010","det":"Yes"},
{"a":"Fluorene","v":0.00018,"yr":"2010","det":"Yes"},
{"a":"Fluorene","v":0.000185,"yr":"2010","det":"Yes"},
{"a":"Fluorene","v":0.00019,"yr":"2010","det":"Yes"},
{"a":"Fluorene","v":0.000195,"yr":"2010","det":"Yes"},
{"a":"Fluorene","v":0.0002,"yr":"2010","det":"Yes"},
{"a":"Fluorene","v":0.00018,"yr":"2010","det":"Yes"},
{"a":"Fluorene","v":0.000057,"yr":"2010","det":"Yes"},
{"a":"Fluorene","v":0.00006,"yr":"2010","det":"Yes"},
{"a":"Fluorene","v":0.00008,"yr":"2010","det":"Yes"},
{"a":"Fluorene","v":0.0001,"yr":"2010","det":"Yes"},
{"a":"Fluorene","v":0.00012,"yr":"2010","det":"Yes"},
{"a":"Fluorene","v":0.00014,"yr":"2010","det":"Yes"},
{"a":"Fluorene","v":0.00023,"yr":"2010","det":"Yes"},
{"a":"Fluorene","v":0.00027,"yr":"2010","det":"Yes"},
{"a":"Fluorene","v":0.00032,"yr":"2010","det":"Yes"},
{"a":"Fluorene","v":0.0004,"yr":"2010","det":"Yes"},
{"a":"Fluorene","v":0.0005,"yr":"2010","det":"Yes"},
{"a":"Fluorene","v":0.0006,"yr":"2010","det":"Yes"},
{"a":"Fluorene","v":0.0008,"yr":"2010","det":"Yes"},
{"a":"Fluorene","v":0.0012,"yr":"2010","det":"Yes"},
{"a":"Fluorene","v":0.0025,"yr":"2010","det":"Yes"},
{"a":"Fluorene","v":0.0036,"yr":"2010","det":"Yes"},
{"a":"Fluorene","v":0.0045,"yr":"2010","det":"Yes"},
{"a":"Fluorene","v":0.005,"yr":"2010","det":"Yes"},
{"a":"Fluorene","v":0.017,"yr":"2010","det":"Yes"},
{"a":"Fluorene","v":0.00025,"yr":"2010","det":"No"},
{"a":"Fluorene","v":0.0003,"yr":"2010","det":"No"},
{"a":"Fluorene","v":0.00045,"yr":"2010","det":"No"},
{"a":"Fluorene","v":0.0016,"yr":"2011","det":"Yes"},
{"a":"Fluorene","v":0.0017,"yr":"2011","det":"Yes"},
{"a":"Fluorene","v":0.00165,"yr":"2011","det":"No"},
{"a":"Fluorene","v":0.0015,"yr":"1998","det":"No"},
{"a":"Fluorene","v":0.0016,"yr":"1998","det":"No"},
{"a":"Fluorene","v":0.016,"yr":"1997","det":"No"},
{"a":"Heptachlor","v":0.0144,"yr":"1998","det":"Yes"},
{"a":"Heptachlor","v":0.0143,"yr":"1998","det":"Yes"},
{"a":"Heptachlor","v":0.0145,"yr":"1998","det":"No"},
{"a":"Heptachlor","v":0.0144,"yr":"1998","det":"No"},
{"a":"Hexachlorobenzene","v":1.0,"yr":"2010","det":"Yes"},
{"a":"Hexachlorobenzene","v":1.05,"yr":"2010","det":"Yes"},
{"a":"Hexachlorobenzene","v":1.1,"yr":"2010","det":"Yes"},
{"a":"Hexachlorobenzene","v":1.12,"yr":"2010","det":"Yes"},
{"a":"Hexachlorobenzene","v":1.15,"yr":"2010","det":"Yes"},
{"a":"Hexachlorobenzene","v":1.18,"yr":"2010","det":"Yes"},
{"a":"Hexachlorobenzene","v":1.2,"yr":"2010","det":"Yes"},
{"a":"Hexachlorobenzene","v":1.22,"yr":"2010","det":"Yes"},
{"a":"Hexachlorobenzene","v":1.25,"yr":"2010","det":"Yes"},
{"a":"Hexachlorobenzene","v":1.3,"yr":"2010","det":"Yes"},
{"a":"Hexachlorobenzene","v":1.35,"yr":"2010","det":"Yes"},
{"a":"Hexachlorobenzene","v":1.4,"yr":"2010","det":"Yes"},
{"a":"Hexachlorobenzene","v":1.1,"yr":"2010","det":"Yes"},
{"a":"Hexachlorobenzene","v":1.2,"yr":"2010","det":"Yes"},
{"a":"Hexachlorobenzene","v":1.3,"yr":"2010","det":"Yes"},
{"a":"Hexachlorobenzene","v":1.25,"yr":"2010","det":"No"},
{"a":"Hexachlorobenzene","v":1.35,"yr":"2010","det":"No"},
{"a":"Hexachlorobenzene","v":1.45,"yr":"2010","det":"No"},
{"a":"Hexachlorobenzene","v":1.5,"yr":"2010","det":"No"},
{"a":"Hexachlorobenzene","v":1.6,"yr":"2010","det":"No"},
{"a":"Hexachlorobenzene","v":1.7,"yr":"2010","det":"No"},
{"a":"Hexachlorobenzene","v":1.8,"yr":"2010","det":"No"},
{"a":"Hexachlorobenzene","v":2.0,"yr":"2010","det":"No"},
{"a":"Hexachlorobenzene","v":2.2,"yr":"2010","det":"No"},
{"a":"Hexachlorobenzene","v":2.5,"yr":"2010","det":"No"},
{"a":"Hexachlorobenzene","v":2.7,"yr":"2010","det":"No"},
{"a":"Hexachlorobenzene","v":2.9,"yr":"2010","det":"No"},
{"a":"Hexachlorobenzene","v":3.2,"yr":"2010","det":"No"},
{"a":"Hexachlorobenzene","v":4.3,"yr":"2010","det":"No"},
{"a":"Hexachlorobenzene","v":4.7,"yr":"2010","det":"No"},
{"a":"Hexachlorobenzene","v":10.5,"yr":"2010","det":"No"},
{"a":"Hexachlorobenzene","v":11.8,"yr":"2010","det":"No"},
{"a":"Hexachlorobenzene","v":1.0,"yr":"1998","det":"No"},
{"a":"Hexachlorobenzene","v":1.02,"yr":"1998","det":"No"},
{"a":"Pentachlorophenol","v":0.37,"yr":"2010","det":"Yes"},
{"a":"Pentachlorophenol","v":0.38,"yr":"2010","det":"Yes"},
{"a":"Pentachlorophenol","v":0.39,"yr":"2010","det":"Yes"},
{"a":"Pentachlorophenol","v":0.4,"yr":"2010","det":"Yes"},
{"a":"Pentachlorophenol","v":0.41,"yr":"2010","det":"Yes"},
{"a":"Pentachlorophenol","v":0.42,"yr":"2010","det":"Yes"},
{"a":"Pentachlorophenol","v":0.43,"yr":"2010","det":"Yes"},
{"a":"Pentachlorophenol","v":0.44,"yr":"2010","det":"Yes"},
{"a":"Pentachlorophenol","v":0.46,"yr":"2010","det":"Yes"},
{"a":"Pentachlorophenol","v":0.48,"yr":"2010","det":"Yes"},
{"a":"Pentachlorophenol","v":0.5,"yr":"2010","det":"Yes"},
{"a":"Pentachlorophenol","v":0.55,"yr":"2010","det":"Yes"},
{"a":"Pentachlorophenol","v":0.6,"yr":"2010","det":"Yes"},
{"a":"Pentachlorophenol","v":0.65,"yr":"2010","det":"Yes"},
{"a":"Pentachlorophenol","v":0.7,"yr":"2010","det":"Yes"},
{"a":"Pentachlorophenol","v":0.75,"yr":"2010","det":"Yes"},
{"a":"Pentachlorophenol","v":0.4,"yr":"2010","det":"Yes"},
{"a":"Pentachlorophenol","v":0.42,"yr":"2010","det":"Yes"},
{"a":"Pentachlorophenol","v":0.5,"yr":"2010","det":"No"},
{"a":"Pentachlorophenol","v":0.6,"yr":"2010","det":"No"},
{"a":"Pentachlorophenol","v":0.7,"yr":"2010","det":"No"},
{"a":"Pentachlorophenol","v":0.8,"yr":"2010","det":"No"},
{"a":"Pentachlorophenol","v":4.1,"yr":"2010","det":"No"},
{"a":"Pentachlorophenol","v":1.8,"yr":"2011","det":"Yes"},
{"a":"Pentachlorophenol","v":1.9,"yr":"2011","det":"Yes"},
{"a":"Pentachlorophenol","v":1.85,"yr":"2011","det":"No"},
{"a":"Pentachlorophenol","v":1.95,"yr":"2011","det":"No"},
{"a":"Pentachlorophenol","v":1.85,"yr":"1998","det":"No"},
{"a":"Pentachlorophenol","v":1.88,"yr":"1998","det":"No"},
{"a":"Pentachlorophenol","v":18.5,"yr":"1997","det":"No"},
{"a":"Phenol","v":0.0002,"yr":"2010","det":"Yes"},
{"a":"Phenol","v":0.000205,"yr":"2010","det":"Yes"},
{"a":"Phenol","v":0.00021,"yr":"2010","det":"Yes"},
{"a":"Phenol","v":0.000215,"yr":"2010","det":"Yes"},
{"a":"Phenol","v":0.00022,"yr":"2010","det":"Yes"},
{"a":"Phenol","v":0.000225,"yr":"2010","det":"Yes"},
{"a":"Phenol","v":0.00023,"yr":"2010","det":"Yes"},
{"a":"Phenol","v":0.00021,"yr":"2010","det":"Yes"},
{"a":"Phenol","v":0.0003,"yr":"2010","det":"No"},
{"a":"Phenol","v":0.00033,"yr":"2010","det":"No"},
{"a":"Phenol","v":0.00036,"yr":"2010","det":"No"},
{"a":"Phenol","v":0.0004,"yr":"2010","det":"No"},
{"a":"Phenol","v":0.00045,"yr":"2010","det":"No"},
{"a":"Phenol","v":0.0005,"yr":"2010","det":"No"},
{"a":"Phenol","v":0.00075,"yr":"2010","det":"No"},
{"a":"Phenol","v":0.00086,"yr":"2010","det":"No"},
{"a":"Phenol","v":0.0021,"yr":"2010","det":"No"},
{"a":"Phenol","v":0.0002,"yr":"1998","det":"Yes"},
{"a":"Phenol","v":0.000195,"yr":"1998","det":"No"},
{"a":"Phenol","v":0.0002,"yr":"1998","det":"No"},
{"a":"Phenol","v":0.000205,"yr":"1998","det":"No"},
{"a":"Phenol","v":0.0022,"yr":"1997","det":"No"},
{"a":"Pyrene","v":0.00024,"yr":"2010","det":"Yes"},
{"a":"Pyrene","v":0.00025,"yr":"2010","det":"Yes"},
{"a":"Pyrene","v":0.00026,"yr":"2010","det":"Yes"},
{"a":"Pyrene","v":0.00027,"yr":"2010","det":"Yes"},
{"a":"Pyrene","v":0.00028,"yr":"2010","det":"Yes"},
{"a":"Pyrene","v":0.00029,"yr":"2010","det":"Yes"},
{"a":"Pyrene","v":0.00025,"yr":"2010","det":"Yes"},
{"a":"Pyrene","v":0.00027,"yr":"2010","det":"Yes"},
{"a":"Pyrene","v":0.00006,"yr":"2010","det":"Yes"},
{"a":"Pyrene","v":0.00007,"yr":"2010","det":"Yes"},
{"a":"Pyrene","v":0.00008,"yr":"2010","det":"Yes"},
{"a":"Pyrene","v":0.000091,"yr":"2010","det":"Yes"},
{"a":"Pyrene","v":0.00011,"yr":"2010","det":"Yes"},
{"a":"Pyrene","v":0.00013,"yr":"2010","det":"Yes"},
{"a":"Pyrene","v":0.00016,"yr":"2010","det":"Yes"},
{"a":"Pyrene","v":0.0002,"yr":"2010","det":"Yes"},
{"a":"Pyrene","v":0.00032,"yr":"2010","det":"Yes"},
{"a":"Pyrene","v":0.0004,"yr":"2010","det":"Yes"},
{"a":"Pyrene","v":0.0005,"yr":"2010","det":"Yes"},
{"a":"Pyrene","v":0.0006,"yr":"2010","det":"Yes"},
{"a":"Pyrene","v":0.00075,"yr":"2010","det":"Yes"},
{"a":"Pyrene","v":0.0009,"yr":"2010","det":"Yes"},
{"a":"Pyrene","v":0.0011,"yr":"2010","det":"Yes"},
{"a":"Pyrene","v":0.0014,"yr":"2010","det":"Yes"},
{"a":"Pyrene","v":0.0017,"yr":"2010","det":"Yes"},
{"a":"Pyrene","v":0.0024,"yr":"2010","det":"Yes"},
{"a":"Pyrene","v":0.0032,"yr":"2010","det":"Yes"},
{"a":"Pyrene","v":0.0045,"yr":"2010","det":"Yes"},
{"a":"Pyrene","v":0.006,"yr":"2010","det":"Yes"},
{"a":"Pyrene","v":0.008,"yr":"2010","det":"Yes"},
{"a":"Pyrene","v":0.012,"yr":"2010","det":"Yes"},
{"a":"Pyrene","v":0.02,"yr":"2010","det":"Yes"},
{"a":"Pyrene","v":0.029,"yr":"2010","det":"Yes"},
{"a":"Pyrene","v":0.04,"yr":"2010","det":"Yes"},
{"a":"Pyrene","v":0.055,"yr":"2010","det":"Yes"},
{"a":"Pyrene","v":0.11,"yr":"2010","det":"Yes"},
{"a":"Pyrene","v":0.43,"yr":"2010","det":"Yes"},
{"a":"Pyrene","v":0.0004,"yr":"2010","det":"No"},
{"a":"Pyrene","v":0.0007,"yr":"2010","det":"No"},
{"a":"Pyrene","v":0.0019,"yr":"2011","det":"Yes"},
{"a":"Pyrene","v":0.0021,"yr":"2011","det":"Yes"},
{"a":"Pyrene","v":0.0019,"yr":"1998","det":"No"},
{"a":"Pyrene","v":0.002,"yr":"1998","det":"No"},
{"a":"Pyrene","v":0.0021,"yr":"1998","det":"No"},
{"a":"RDX","v":0.0118,"yr":"2010","det":"Yes"},
{"a":"RDX","v":0.012,"yr":"2010","det":"Yes"},
{"a":"RDX","v":0.0122,"yr":"2010","det":"Yes"},
{"a":"RDX","v":0.0125,"yr":"2010","det":"Yes"},
{"a":"RDX","v":0.0128,"yr":"2010","det":"Yes"},
{"a":"RDX","v":0.013,"yr":"2010","det":"Yes"},
{"a":"RDX","v":0.0132,"yr":"2010","det":"Yes"},
{"a":"RDX","v":0.0125,"yr":"2010","det":"Yes"},
{"a":"RDX","v":0.19,"yr":"2010","det":"Yes"},
{"a":"RDX","v":0.93,"yr":"2010","det":"Yes"},
{"a":"RDX","v":0.02,"yr":"2011","det":"Yes"},
{"a":"RDX","v":0.03,"yr":"2011","det":"Yes"},
{"a":"RDX","v":0.033,"yr":"2011","det":"Yes"},
{"a":"RDX","v":0.036,"yr":"2011","det":"Yes"},
{"a":"RDX","v":0.038,"yr":"2011","det":"Yes"},
{"a":"RDX","v":0.04,"yr":"2011","det":"Yes"},
{"a":"RDX","v":0.042,"yr":"2011","det":"Yes"},
{"a":"RDX","v":0.045,"yr":"2011","det":"Yes"},
{"a":"RDX","v":0.048,"yr":"2011","det":"Yes"},
{"a":"RDX","v":0.05,"yr":"2011","det":"Yes"},
{"a":"RDX","v":0.055,"yr":"2011","det":"Yes"},
{"a":"RDX","v":0.118,"yr":"1997","det":"No"},
{"a":"RDX","v":0.12,"yr":"1997","det":"No"},
{"a":"RDX","v":0.12,"yr":"1998","det":"No"},
{"a":"RDX","v":0.122,"yr":"1998","det":"No"},
{"a":"RDX","v":0.09,"yr":"1995","det":"No"},
{"a":"RDX","v":0.092,"yr":"1995","det":"No"},
{"a":"Strontium-90","v":0.13,"yr":"2011","det":"Yes"},
{"a":"Strontium-90","v":0.14,"yr":"2011","det":"Yes"},
{"a":"Strontium-90","v":0.15,"yr":"2011","det":"Yes"},
{"a":"Strontium-90","v":0.16,"yr":"2011","det":"Yes"},
{"a":"Strontium-90","v":0.17,"yr":"2011","det":"Yes"},
{"a":"Strontium-90","v":0.18,"yr":"2011","det":"Yes"},
{"a":"Strontium-90","v":0.19,"yr":"2011","det":"Yes"},
{"a":"Strontium-90","v":0.2,"yr":"2011","det":"Yes"},
{"a":"Strontium-90","v":0.21,"yr":"2011","det":"Yes"},
{"a":"Strontium-90","v":0.22,"yr":"2011","det":"Yes"},
{"a":"Strontium-90","v":0.24,"yr":"2011","det":"Yes"},
{"a":"Strontium-90","v":0.3,"yr":"2011","det":"Yes"},
{"a":"Strontium-90","v":0.45,"yr":"2011","det":"Yes"},
{"a":"Strontium-90","v":0.55,"yr":"2011","det":"Yes"},
{"a":"Strontium-90","v":0.73,"yr":"2011","det":"Yes"},
{"a":"Strontium-90","v":0.15,"yr":"2011","det":"No"},
{"a":"Strontium-90","v":0.2,"yr":"2011","det":"No"},
{"a":"Strontium-90","v":0.0726,"yr":"2011","det":"No"},
{"a":"Strontium-90","v":0.034,"yr":"2011","det":"No"},
{"a":"Strontium-90","v":0.0207,"yr":"2011","det":"No"},
{"a":"Tetrachlorodibenzodioxin[2,3,7,8-]","v":0.019,"yr":"2010","det":"Yes"},
{"a":"Tetrachlorodibenzodioxin[2,3,7,8-]","v":0.0191,"yr":"2010","det":"Yes"},
{"a":"Tetrachlorodibenzodioxin[2,3,7,8-]","v":0.0189,"yr":"2010","det":"Yes"},
{"a":"Trinitrotoluene[2,4,6-]","v":0.138,"yr":"2010","det":"Yes"},
{"a":"Trinitrotoluene[2,4,6-]","v":0.14,"yr":"2010","det":"Yes"},
{"a":"Trinitrotoluene[2,4,6-]","v":0.141,"yr":"2010","det":"Yes"},
{"a":"Trinitrotoluene[2,4,6-]","v":0.142,"yr":"2010","det":"Yes"},
{"a":"Trinitrotoluene[2,4,6-]","v":0.143,"yr":"2010","det":"Yes"},
{"a":"Trinitrotoluene[2,4,6-]","v":0.0148,"yr":"2010","det":"Yes"},
{"a":"Trinitrotoluene[2,4,6-]","v":0.015,"yr":"2010","det":"Yes"},
{"a":"Trinitrotoluene[2,4,6-]","v":0.0151,"yr":"2010","det":"Yes"},
{"a":"Trinitrotoluene[2,4,6-]","v":0.0152,"yr":"2010","det":"Yes"},
{"a":"Trinitrotoluene[2,4,6-]","v":0.0155,"yr":"2010","det":"Yes"},
{"a":"Trinitrotoluene[2,4,6-]","v":0.0156,"yr":"2010","det":"Yes"},
{"a":"Trinitrotoluene[2,4,6-]","v":0.0158,"yr":"2010","det":"Yes"},
{"a":"Trinitrotoluene[2,4,6-]","v":0.016,"yr":"2010","det":"Yes"},
{"a":"Trinitrotoluene[2,4,6-]","v":0.055,"yr":"2010","det":"No"},
{"a":"Trinitrotoluene[2,4,6-]","v":0.06,"yr":"2010","det":"No"},
{"a":"Trinitrotoluene[2,4,6-]","v":0.07,"yr":"1997","det":"No"},
{"a":"Trinitrotoluene[2,4,6-]","v":0.071,"yr":"1997","det":"No"},
{"a":"Trinitrotoluene[2,4,6-]","v":0.069,"yr":"1998","det":"No"},
{"a":"Trinitrotoluene[2,4,6-]","v":0.07,"yr":"1998","det":"No"},
{"a":"Trinitrotoluene[2,4,6-]","v":0.029,"yr":"2011","det":"Yes"},
{"a":"Trinitrotoluene[2,4,6-]","v":0.03,"yr":"2011","det":"Yes"},
{"a":"Trinitrotoluene[2,4,6-]","v":0.031,"yr":"2011","det":"Yes"},
{"a":"Trinitrotoluene[2,4,6-]","v":0.032,"yr":"2011","det":"Yes"},
{"a":"Trinitrotoluene[2,4,6-]","v":0.033,"yr":"2011","det":"Yes"}
]
},
"resolve":{"scale":{"x":"independent","y":"independent"},"axis":{"x":"independent","y":"independent"}},
"layer":[
{"data":{"name":"page"},"mark":{"type":"rect","fill":"transparent"},
 "encoding":{
  "x":{"field":"l","type":"quantitative","scale":{"domain":[355,849],"range":[0,494],"zero":false,"nice":false},"axis":null},
  "x2":{"field":"r"},
  "y":{"field":"t","type":"quantitative","scale":{"domain":[169,553],"range":[0,384],"zero":false,"nice":false},"axis":null},
  "y2":{"field":"b"}}},
{"resolve":{"axis":{"y":"independent"}},
 "layer":[
  {"data":{"name":"boxes"},"mark":{"type":"rule","color":"#555","strokeWidth":1.3},
   "encoding":{
    "x":{"field":"a","type":"nominal","scale":{"domain":["Aldrin","Anthracene","Aroclor-1016","Aroclor-1221","Aroclor-1232","Aroclor-1242","Aroclor-1248","Aroclor-1254","Aroclor-1260","Benzo(a)anthracene","Benzo(a)pyrene","Benzo(b)fluoranthene","Benzo(k)fluoranthene","Chrysene","DDD[4,4'-]","DDE[4,4'-]","DDT[4,4'-]","Dieldrin","Endrin","Fluoranthene","Fluorene","Heptachlor","Hexachlorobenzene","Pentachlorophenol","Phenol","Pyrene","RDX","Strontium-90","Tetrachlorodibenzodioxin[2,3,7,8-]","Trinitrotoluene[2,4,6-]"],"paddingInner":0,"paddingOuter":0},
     "axis":{"title":null,"labelAngle":-40,"labelAlign":"right","labelBaseline":"top","labelFontSize":9.5,"labelFontWeight":"bold","labelColor":{"condition":{"test":"indexof(['Aroclor-1242','Aroclor-1254','Benzo(a)anthracene','Benzo(a)pyrene','Benzo(b)fluoranthene'], datum.value) >= 0","value":"#2323ff"},"value":"#222222"},"labelPadding":1,"labelLimit":300,"labelOverlap":false,"tickSize":3,"tickColor":"#555","domainColor":"#888"}},
    "y":{"field":"lo","type":"quantitative","scale":{"type":"log","domain":[2.55e-6,581],"nice":false},
     "axis":{"title":"Exceedance Ratio (Result/10% SSL or SAL)","titleFontSize":10.5,"titleFontWeight":"normal","titleColor":"#222","titlePadding":6,
      "values":[3e-6,4e-6,5e-6,6e-6,7e-6,8e-6,9e-6,1e-5,2e-5,3e-5,4e-5,5e-5,6e-5,7e-5,8e-5,9e-5,1e-4,2e-4,3e-4,4e-4,5e-4,6e-4,7e-4,8e-4,9e-4,0.001,0.002,0.003,0.004,0.005,0.006,0.007,0.008,0.009,0.01,0.02,0.03,0.04,0.05,0.06,0.07,0.08,0.09,0.1,0.2,0.3,0.4,0.5,0.6,0.7,0.8,0.9,1,2,3,4,5,6,7,8,9,10,20,30,40,50,60,70,80,90,100,200,300,400,500],
      "labelExpr":"abs(log(datum.value)/LN10 - round(log(datum.value)/LN10)) < 1e-6 ? (datum.value < 0.0005 ? replace(format(datum.value, '.0e'), 'e-', 'e-0') : format(datum.value, '~g')) : ''",
      "labelFontSize":9.5,"labelColor":"#555","labelPadding":11,"labelOverlap":false,"labelBound":false,"labelFlush":false,
      "tickSize":{"condition":[{"test":"abs(log(datum.value)/LN10 - round(log(datum.value)/LN10)) < 1e-6","value":-8},{"test":"abs(datum.value/pow(10, floor(log(datum.value)/LN10 + 1e-6)) - 5) < 0.01","value":-5.5}],"value":-3.5},
      "tickColor":"#444","domainColor":"#888"}},
    "y2":{"field":"hi"}}},
  {"data":{"name":"boxes"},"mark":{"type":"bar","fill":"white","stroke":"#333","strokeWidth":1.2,"width":{"band":0.76}},
   "encoding":{"x":{"field":"a","type":"nominal"},"y":{"field":"q1","type":"quantitative","axis":null},"y2":{"field":"q3"}}},
  {"data":{"name":"boxes"},"mark":{"type":"tick","color":"#333","thickness":2,"size":12.5},
   "encoding":{"x":{"field":"a","type":"nominal"},"y":{"field":"med","type":"quantitative","axis":null}}},
  {"data":{"values":[{"v":1}]},"mark":{"type":"rule","strokeDash":[2,3],"color":"#333","strokeWidth":1},
   "encoding":{"y":{"field":"v","type":"quantitative",
     "axis":{"orient":"right","title":null,"labels":false,
      "values":[3e-6,4e-6,5e-6,6e-6,7e-6,8e-6,9e-6,1e-5,2e-5,3e-5,4e-5,5e-5,6e-5,7e-5,8e-5,9e-5,1e-4,2e-4,3e-4,4e-4,5e-4,6e-4,7e-4,8e-4,9e-4,0.001,0.002,0.003,0.004,0.005,0.006,0.007,0.008,0.009,0.01,0.02,0.03,0.04,0.05,0.06,0.07,0.08,0.09,0.1,0.2,0.3,0.4,0.5,0.6,0.7,0.8,0.9,1,2,3,4,5,6,7,8,9,10,20,30,40,50,60,70,80,90,100,200,300,400,500],
      "tickSize":{"condition":[{"test":"abs(log(datum.value)/LN10 - round(log(datum.value)/LN10)) < 1e-6","value":-8},{"test":"abs(datum.value/pow(10, floor(log(datum.value)/LN10 + 1e-6)) - 5) < 0.01","value":-5.5}],"value":-3.5},
      "tickColor":"#444","domainColor":"#888"}}}},
  {"data":{"name":"pts"},
   "transform":[{"window":[{"op":"row_number","as":"idx"}]},{"calculate":"((datum.idx*0.618034)%1)-0.5","as":"jit"}],
   "mark":{"type":"point","filled":true,"strokeWidth":0,"opacity":0.65,"size":28},
   "encoding":{
    "x":{"field":"a","type":"nominal"},
    "xOffset":{"field":"jit","type":"quantitative","scale":{"domain":[-0.7,0.7]}},
    "y":{"field":"v","type":"quantitative","axis":null},
    "color":{"field":"yr","type":"nominal","scale":{"domain":["1995","1997","1998","2010","2011"],"range":["#E41A1C","#377EB8","#4DAF4A","#984EA3","#FF7F00"]},
     "legend":{"title":"Sample Year","orient":"none","legendX":510,"legendY":113,"titleFontSize":10,"titleFontWeight":"normal","titleColor":"#222","titlePadding":6,"labelFontSize":8.5,"labelColor":"#333","symbolType":"circle","symbolSize":14,"symbolStrokeWidth":0,"symbolOpacity":0.8,"rowPadding":7,"labelOffset":12}},
    "shape":{"field":"det","type":"nominal","scale":{"domain":["No","Yes"],"range":["M -1 0 A 1 1 0 1 0 1 0 A 1 1 0 1 0 -1 0 Z M -0.68 0 A 0.68 0.68 0 1 1 0.68 0 A 0.68 0.68 0 1 1 -0.68 0 Z","M -0.8 0 A 0.8 0.8 0 1 0 0.8 0 A 0.8 0.8 0 1 0 -0.8 0 Z"]},
     "legend":{"title":"Detected","orient":"none","legendX":510,"legendY":230,"titleFontSize":10,"titleFontWeight":"normal","titleColor":"#222","titlePadding":6,"labelFontSize":8.5,"labelColor":"#333","symbolSize":22,"symbolFillColor":"#666","symbolStrokeWidth":0,"symbolOpacity":0.9,"rowPadding":7,"labelOffset":12}}
   }}
 ]},
{"layer":[
  {"data":{"name":"notes"},"mark":{"type":"rect","fill":"white","stroke":"black","strokeWidth":1.6,"cornerRadius":13},
   "encoding":{
    "x":{"field":"l","type":"quantitative","scale":{"domain":[355,849],"range":[0,494],"zero":false,"nice":false},"axis":null},
    "x2":{"field":"r"},
    "y":{"field":"t","type":"quantitative","scale":{"domain":[169,553],"range":[0,384],"zero":false,"nice":false},"axis":null},
    "y2":{"field":"b"}}},
  {"data":{"name":"notes"},"transform":[{"calculate":"(datum.l+datum.r)/2","as":"cx"},{"calculate":"(datum.t+datum.b)/2 - (length(split(datum.text, '\\n')) - 1) * 19.3 / 2","as":"cy"}],
   "mark":{"type":"text","font":"Lato","fontSize":14.5,"lineHeight":19.3,"lineBreak":"\n","align":"center","baseline":"middle","color":"black"},
   "encoding":{
    "x":{"field":"cx","type":"quantitative","scale":{"domain":[355,849],"range":[0,494],"zero":false,"nice":false},"axis":null},
    "y":{"field":"cy","type":"quantitative","scale":{"domain":[169,553],"range":[0,384],"zero":false,"nice":false},"axis":null},
    "text":{"field":"text"}}},
  {"data":{"name":"heading"},
   "mark":{"type":"text","font":"Liberation Sans","fontSize":12.5,"align":"left","baseline":"middle","color":"#222"},
   "encoding":{
    "x":{"field":"px","type":"quantitative","scale":{"domain":[355,849],"range":[0,494],"zero":false,"nice":false},"axis":null},
    "y":{"field":"py","type":"quantitative","scale":{"domain":[169,553],"range":[0,384],"zero":false,"nice":false},"axis":null},
    "text":{"field":"label"}}},
  {"data":{"name":"arrows"},"mark":{"type":"rule","color":"black","strokeWidth":2},
   "encoding":{
    "x":{"field":"x1","type":"quantitative","scale":{"domain":[355,849],"range":[0,494],"zero":false,"nice":false},"axis":null},
    "y":{"field":"y1","type":"quantitative","scale":{"domain":[169,553],"range":[0,384],"zero":false,"nice":false},"axis":null},
    "x2":{"field":"x2"},"y2":{"field":"y2"}}},
  {"data":{"name":"arrows"},"transform":[{"calculate":"atan2(datum.x2-datum.x1, datum.y1-datum.y2)*180/PI","as":"ang"}],
   "mark":{"type":"point","shape":"triangle-up","filled":true,"color":"black","size":110,"opacity":1},
   "encoding":{
    "x":{"field":"x2","type":"quantitative","scale":{"domain":[355,849],"range":[0,494],"zero":false,"nice":false},"axis":null},
    "y":{"field":"y2","type":"quantitative","scale":{"domain":[169,553],"range":[0,384],"zero":false,"nice":false},"axis":null},
    "angle":{"field":"ang","type":"quantitative","scale":null}}}
 ]}
]
}
